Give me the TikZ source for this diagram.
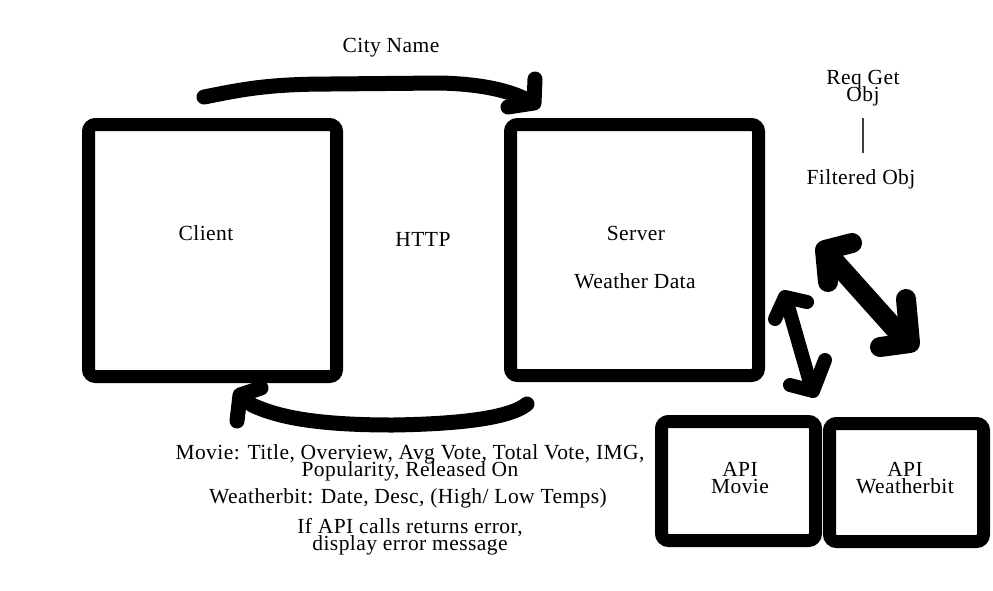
\documentclass[tikz,border=0pt]{standalone}
\usepackage{fontspec}
\setmainfont{Liberation Serif}[LetterSpace=2]
\newcommand\mytightlines{\lineskiplimit=-40pt\relax}
\begin{document}
\begin{tikzpicture}[x=1pt,y=-1pt,
  box/.style={draw=black,line width=13pt,rounded corners=7pt,inner sep=0pt,fill=white},
  lbl/.style={inner sep=0pt,anchor=base,font={\fontsize{21.5}{16.5}\selectfont\mytightlines},align=center},
  pen/.style={draw=black,line width=15pt,line cap=round,line join=round},
  bigpen/.style={draw=black,line width=20pt,line cap=round,line join=round}]
\useasboundingbox[fill=white] (0,0) rectangle (993,590);

% boxes
\node[box,minimum width=248pt,minimum height=252pt] (client) at (212.5,250.5) {};
\node[box,minimum width=248pt,minimum height=251pt] (server) at (634.5,250) {};
\node[box,minimum width=154pt,minimum height=119pt] (apimovie) at (738.5,481) {};
\node[box,minimum width=154pt,minimum height=118pt] (apiweather) at (906.5,482.5) {};

% labels
\node[lbl] (clientlbl) at (206,240) {Client};
\node[lbl] (serverlbl) at (636,240) {Server};
\node[lbl] (weatherlbl) at (635,288) {Weather Data};
\node[lbl] (http) at (423,246) {HTTP};
\node[lbl] (city) at (391,52) {City Name};
\node[lbl] (req) at (863,101) {Req Get\\Obj};
\node[lbl] (filtered) at (861,184) {Filtered Obj};
\node[lbl] (movielbl) at (740,493) {API\\Movie};
\node[lbl] (weatherbitlbl) at (905,493) {API\\Weatherbit};
\node[lbl] (resp1) at (410,476) {Movie: Title, Overview, Avg Vote, Total Vote, IMG,\\Popularity, Released On};
\node[lbl] (resp2) at (408,503) {Weatherbit: Date, Desc, (High/ Low Temps)};
\node[lbl] (resp3) at (410,550) {If API calls returns error,\\display error message};

% thin line between Req Get Obj and Filtered Obj
\coordinate (tA) at (863,118);
\coordinate (tB) at (863,153);
\draw[line width=1.5pt,draw=black!75] (tA) -- (tB);

% top arrow: client -> server
\coordinate (c1) at (204,97);
\coordinate (c2) at (531,102);
\coordinate (c2a) at (535,79);
\coordinate (c2b) at (508,107);
\path[pen] (c1) .. controls (240,90) and (265,84) .. (330,84)
  -- (440,83) .. controls (480,84) and (510,90) .. (c2);
\path[pen] (c2a) -- (534,103) -- (c2b);

% bottom arrow: server -> client
\coordinate (d1) at (527,404);
\coordinate (d2) at (252,405);
\coordinate (d2a) at (261,388);
\coordinate (d2b) at (237,421);
\path[pen] (d1) .. controls (510,418) and (460,424) .. (393,425)
  .. controls (320,425) and (280,418) .. (d2);
\path[pen] (d2a) -- (240,395) -- (d2b);

% small double arrow: server <-> API Movie
\coordinate (e1) at (786,299);
\coordinate (e2) at (811,386);
\path[pen,line width=14pt] (e1) -- (e2);
\path[pen,line width=14pt] (807,302) -- (785,297) -- (775,319);
\path[pen,line width=14pt] (790,385) -- (813,391) -- (825,360);

% big double arrow: Req/Filtered <-> API Weatherbit
\coordinate (f1) at (828,254);
\coordinate (f2) at (905,340);
\path[bigpen] (f1) -- (f2);
\path[bigpen] (852,243) -- (825,250) -- (828,282);
\path[bigpen] (906,299) -- (910,343) -- (880,347);
\end{tikzpicture}
\end{document}
